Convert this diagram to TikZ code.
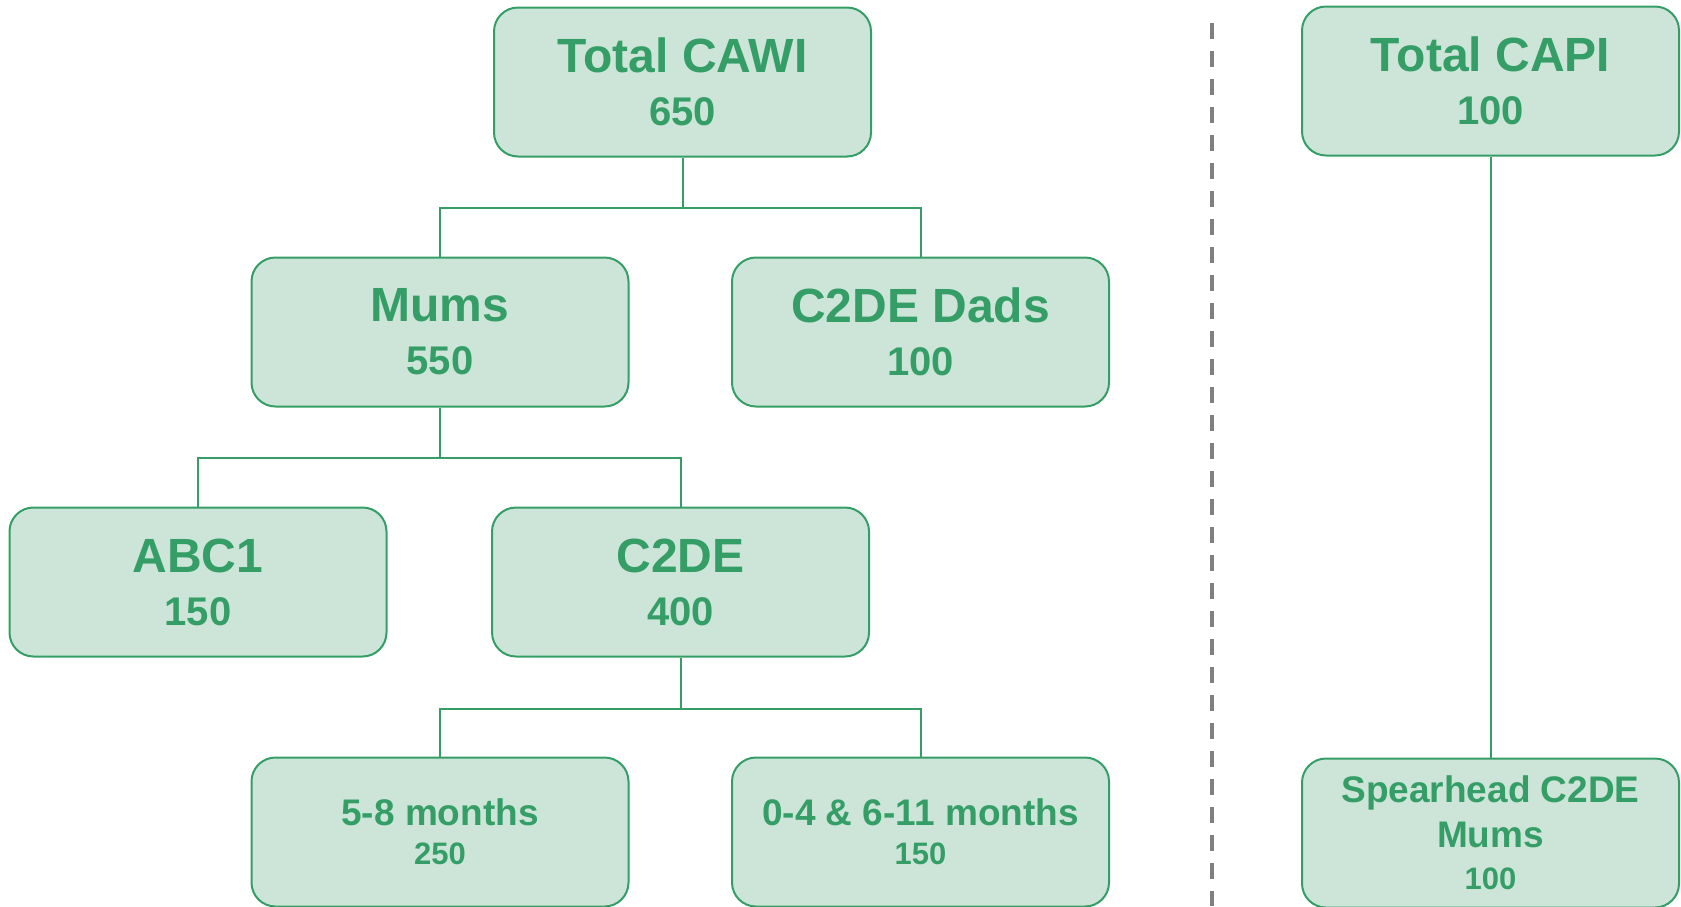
\documentclass[tikz,border=0pt]{standalone}
\usepackage{fontspec}
\setmainfont{Liberation Sans}
\definecolor{boxgreen}{RGB}{53,158,103}
\definecolor{boxfill}{RGB}{204,229,216}
\definecolor{divgray}{RGB}{128,128,128}

\begin{document}
\begin{tikzpicture}[x = 0.5pt, y = -0.5pt,
  box/.style = {draw = boxgreen, fill = boxfill, line width = 1pt, rounded corners = 12pt,
    minimum width = 188.5pt, minimum height = 74.5pt, inner sep = 0pt, align = center,
    text = boxgreen, font = \bfseries\fontsize{20}{26.5}\selectfont},
  small/.style = {font = \bfseries\fontsize{15.5}{19.5}\selectfont},
  link/.style = {draw = boxgreen, line width = 1pt}]
 \useasboundingbox (0, 0) rectangle (1681, 906);
 \clip (0, 0) rectangle (1681, 906);
 % CAWI tree
 \node[box] (cawi) at (682.5, 82) {{\fontsize{24}{26.5}\selectfont Total CAWI}\\650};
 \node[box] (mums) at (440, 332) {{\fontsize{24}{26.5}\selectfont Mums}\\550};
 \node[box] (dads) at (920.5, 332) {{\fontsize{24}{26.5}\selectfont C2DE Dads}\\100};
 \node[box] (abc) at (198, 582) {{\fontsize{24}{26.5}\selectfont ABC1}\\150};
 \node[box] (ctde) at (680.5, 582) {{\fontsize{24}{26.5}\selectfont C2DE}\\400};
 \node[box, small] (early) at (440, 832) {{\fontsize{18.5}{19.5}\selectfont 5-8 months}\\250};
 \node[box, small] (late) at (920.5, 832) {{\fontsize{18.5}{19.5}\selectfont 0-4 \& 6-11 months}\\150};
 \draw[link] (cawi.south) -- ++(0, 50) coordinate (cawisplit);
 \draw[link] (mums.north) |- (cawisplit) -| (dads.north);
 \draw[link] (mums.south) -- ++(0, 50) coordinate (mumssplit);
 \draw[link] (abc.north) |- (mumssplit) -| (ctde.north);
 \draw[link] (ctde.south) -- ++(0, 51) coordinate (ctdesplit);
 \draw[link] (early.north) |- (ctdesplit) -| (late.north);
 % divider
 \draw[divgray, line width = 2pt, dash pattern = on 8pt off 6pt] (1212.3, 23) -- (1212.3, 906);
 % CAPI side
 \node[box] (capi) at (1490.5, 81) {{\fontsize{24}{26.5}\selectfont Total CAPI}\\100};
 \node[box, font = \bfseries\fontsize{15.5}{21}\selectfont] (spear) at (1490.5, 833)
   {{\fontsize{18.5}{21}\selectfont Spearhead C2DE}\\[1.5pt]{\fontsize{18.5}{21}\selectfont Mums}\\100};
 \draw[link] (capi.south) -- (spear.north);
\end{tikzpicture}
\end{document}
